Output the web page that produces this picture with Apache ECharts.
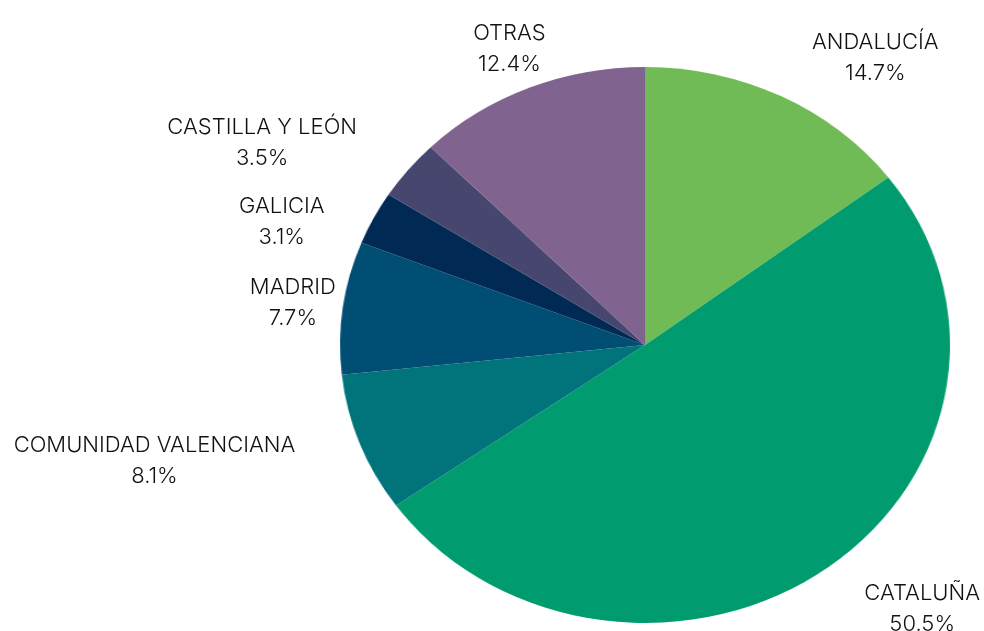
<!DOCTYPE html>
<html>
<head>
<meta charset="utf-8">
<script src="https://cdn.jsdelivr.net/npm/echarts@6/dist/echarts.min.js"></script>
<style>
  html, body { margin: 0; padding: 0; background: #fff; }
  #wrap { position: relative; width: 984px; height: 631px; overflow: hidden; }
  #slices, #labels { position: absolute; left: 0; top: 0; width: 984px; height: 631px; }
  /* Excel pie is slightly elliptical: stretch the slice layer only */
  #slices { transform: scaleX(1.097); transform-origin: 645px 345px; }
</style>
</head>
<body>
<div id="wrap">
  <div id="slices"></div>
  <div id="labels"></div>
</div>
<script>
  const regions = ['ANDALUCÍA', 'CATALUÑA', 'COMUNIDAD VALENCIANA', 'MADRID', 'GALICIA', 'CASTILLA Y LEÓN', 'OTRAS']
  const shares = [14.7, 50.5, 8.1, 7.7, 3.1, 3.5, 12.4]
  const colors = ['#70bb55', '#009b6e', '#00747a', '#004e73', '#002a54', '#46466f', '#80638f']
  // small label nudges [dx, dy] to follow the original placement
  const labelNudge = [[22, -6], [29, 10], [-51, 5], [2, 0], [-36, 11], [-43, -4], [25, -6]]

  const pieData = regions.map((name, i) => ({ name: name, value: shares[i] }))

  const sliceChart = echarts.init(document.getElementById('slices'))
  sliceChart.setOption({
    animation: false,
    series: [{
      type: 'pie',
      center: [645, 345],
      radius: 278,
      startAngle: 90,
      clockwise: true,
      silent: true,
      label: { show: false },
      labelLine: { show: false },
      itemStyle: {
        color: p => colors[p.dataIndex],
        borderWidth: 0
      },
      data: pieData
    }]
  })

  const labelChart = echarts.init(document.getElementById('labels'))
  labelChart.setOption({
    animation: false,
    series: [{
      type: 'pie',
      center: [645, 345],
      radius: 292,
      startAngle: 90,
      clockwise: true,
      silent: true,
      itemStyle: { color: 'transparent' },
      label: {
        show: true,
        position: 'outside',
        formatter: p => p.name + '\n' + p.value.toFixed(1) + '%',
        fontFamily: 'Inter',
        fontWeight: 300,
        fontSize: 22,
        lineHeight: 31,
        color: '#111'
      },
      labelLine: { show: false, length: 22, length2: 0 },
      labelLayout: function (params) {
        const r = params.labelRect
        const n = labelNudge[params.dataIndex]
        return {
          x: r.x + r.width / 2 + n[0],
          y: r.y + r.height / 2 + n[1],
          align: 'center',
          verticalAlign: 'middle'
        }
      },
      data: pieData
    }]
  })
</script>
</body>
</html>
